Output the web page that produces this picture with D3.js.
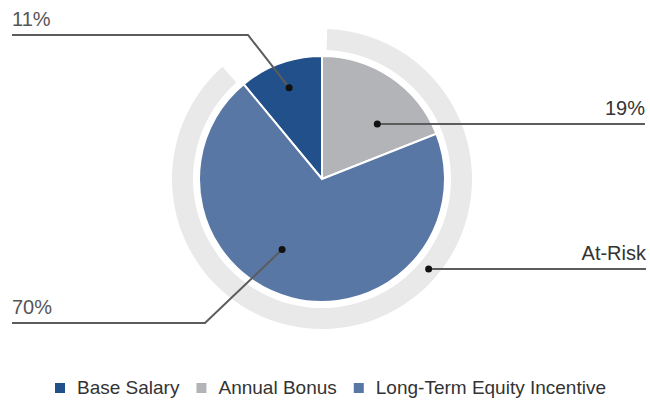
<!DOCTYPE html>
<html>
<head>
<meta charset="utf-8">
<script src="https://cdn.jsdelivr.net/npm/d3@7"></script>
<style>
  body { margin: 0; background: #fff; }
  svg { display: block; font-family: "Liberation Sans", Arial, Helvetica, sans-serif; }
</style>
</head>
<body>
<script>
//pay mix values (percent)
var categories = ["Base Salary", "Annual Bonus", "Long-Term Equity Incentive"];
var shares = [11, 19, 70];
var colors = ["#22508a", "#b3b4b7", "#5977a5"];
//slices that make up the at-risk ring
var atRiskKeys = ["Annual Bonus", "Long-Term Equity Incentive"];
var atRiskLabel = "At-Risk";

var width = 650;
var height = 404;
var cx = 322, cy = 179;
var radius = 123;
var ringInner = 129, ringOuter = 150;
var tau = Math.PI * 2;

var svg = d3.select("body").append("svg")
  .attr("width", width)
  .attr("height", height);

var g = svg.append("g")
  .attr("transform", "translate(" + cx + "," + cy + ")");

//first slice ends at 12 o'clock, the rest go on clockwise
var total = d3.sum(shares);
var start = -shares[0] / total * tau;
var pie = d3.pie().sort(null).startAngle(start).endAngle(start + tau);
var arcs = pie(shares);

var color = d3.scaleOrdinal().domain(categories).range(colors);

var arc = d3.arc().innerRadius(0).outerRadius(radius);

g.selectAll(".slice")
  .data(arcs)
  .enter().append("path")
  .attr("class", "slice")
  .attr("d", arc)
  .style("fill", function(d, i) { return color(categories[i]); })
  .style("stroke", "#ffffff")
  .style("stroke-width", 2);

//light grey ring round the at-risk part of the pay
var riskArcs = arcs.filter(function(d, i) { return atRiskKeys.indexOf(categories[i]) >= 0; });
var pad = 0.035;
var ring = {
  startAngle: d3.min(riskArcs, function(d) { return d.startAngle; }) + pad,
  endAngle: d3.max(riskArcs, function(d) { return d.endAngle; }) - pad
};
var ringArc = d3.arc().innerRadius(ringInner).outerRadius(ringOuter);
g.append("path")
  .attr("d", ringArc(ring))
  .style("fill", "#e9e9e9");

//point on a slice: t = how far along the slice, r = distance from centre
function pointAt(a0, a1, t, r) {
  var a = a0 + (a1 - a0) * t;
  return [cx + Math.sin(a) * r, cy - Math.cos(a) * r];
}

//callout layout: where the dot sits and where the leader line runs
var callouts = [
  { text: d3.format(".0f")(shares[0]) + "%", span: arcs[0], t: 0.5, r: 97, lineY: 35, elbowX: 248, endX: 12, anchor: "start", color: "#555" },
  { text: d3.format(".0f")(shares[1]) + "%", span: arcs[1], t: 0.66, r: 78, lineY: null, elbowX: null, endX: 645, anchor: "end", color: "#333" },
  { text: d3.format(".0f")(shares[2]) + "%", span: arcs[2], t: 0.56, r: 81, lineY: 323, elbowX: 205, endX: 12, anchor: "start", color: "#555" },
  { text: atRiskLabel, span: ring, t: 0.405, r: (ringInner + ringOuter) / 2, lineY: null, elbowX: null, endX: 646, anchor: "end", color: "#333" }
];

callouts.forEach(function(c) {
  var p = pointAt(c.span.startAngle, c.span.endAngle, c.t, c.r);
  var lineY = c.lineY == null ? p[1] : c.lineY;
  var pts = [p];
  if (c.elbowX != null) pts.push([c.elbowX, lineY]);
  pts.push([c.endX, lineY]);

  svg.append("path")
    .attr("d", d3.line()(pts))
    .style("fill", "none")
    .style("stroke", "#5c5c5c")
    .style("stroke-width", 2);

  svg.append("circle")
    .attr("cx", p[0])
    .attr("cy", p[1])
    .attr("r", 3.5)
    .style("fill", "#111");

  svg.append("text")
    .attr("x", c.endX)
    .attr("y", lineY - 9)
    .attr("text-anchor", c.anchor)
    .attr("font-size", 20)
    .style("fill", c.color)
    .text(c.text);
});

//legend along the bottom
var legend = svg.append("g")
  .attr("font-size", 19)
  .attr("fill", "#333");

var lx = 55;
categories.forEach(function(name) {
  legend.append("rect")
    .attr("x", lx)
    .attr("y", 383)
    .attr("width", 10)
    .attr("height", 10)
    .style("fill", color(name));
  var t = legend.append("text")
    .attr("x", lx + 22)
    .attr("y", 394)
    .text(name);
  lx = lx + 22 + t.node().getComputedTextLength() + 17;
});
</script>
</body>
</html>
